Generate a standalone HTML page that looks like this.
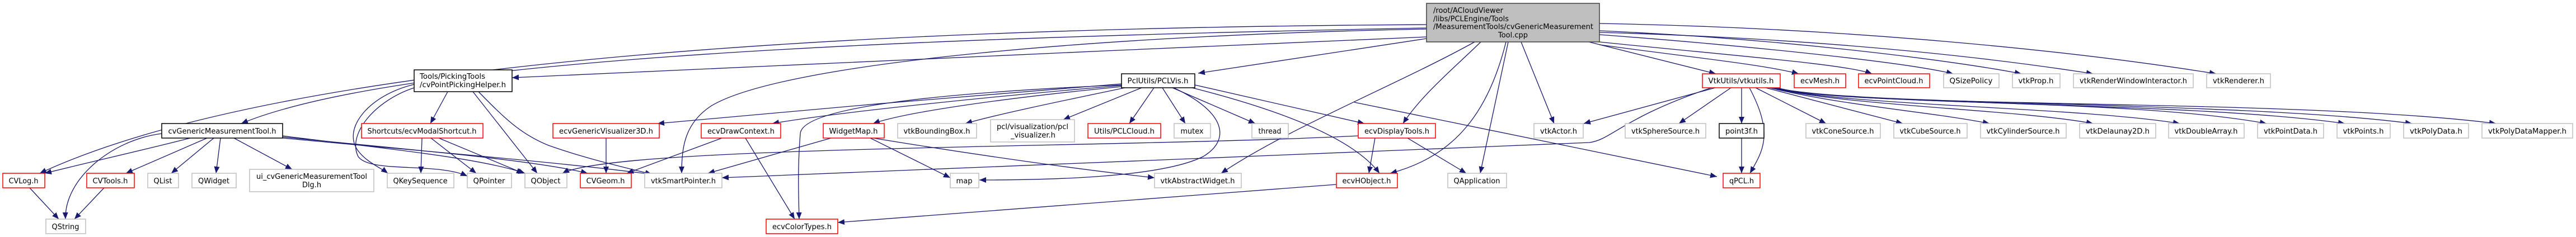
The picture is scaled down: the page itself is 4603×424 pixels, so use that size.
<!DOCTYPE html>
<html><head><meta charset="utf-8"><style>
html,body{margin:0;padding:0;background:#fff;}
svg{display:block;}
text{font-family:"DejaVu Sans","Liberation Sans",sans-serif;font-size:13px;fill:#000;}
.e{fill:none;stroke:#191970;stroke-width:1.3;}
.g{fill:#fff;stroke:#bfbfbf;stroke-width:1.5;}
.r{fill:#fff;stroke:#ff0000;stroke-width:1.5;}
.k{fill:#fff;stroke:#000;stroke-width:1.5;}
</style></head><body>
<svg width="4603" height="424" viewBox="0 0 4603 424" xmlns="http://www.w3.org/2000/svg">
<defs><marker id="a" markerUnits="userSpaceOnUse" markerWidth="12" markerHeight="10" refX="12" refY="5" orient="auto"><path d="M0,0 L12,5 L0,10 z" fill="#191970"/></marker></defs>
<g class="e" marker-end="url(#a)">
<!-- main edges -->
<path d="M2549,44 C1500,50 500,110 71,310"/>
<path d="M2549,50 C1500,70 700,110 431,221"/>
<path d="M2549,66 C2000,90 1300,120 915,139"/>
<path d="M2549,69 L2141,131"/>
<path d="M2549,52 C2000,62 1400,110 1270,190 C1225,220 1218,260 1218,310"/>
<path d="M2646,75 C2600,120 2540,170 2507,221"/>
<path d="M2691,75 C2660,200 2600,280 2484,310"/>
<path d="M2695,75 L2645,310"/>
<path d="M2718,75 L2777,221"/>
<path d="M2839,75 L3066,132"/>
<path d="M2635,75 C2500,150 2300,230 2182,310"/>
<path d="M2858,80 C3000,100 3150,115 3214,132"/>
<path d="M2858,75 C3100,100 3300,115 3345,132"/>
<path d="M2858,62 C3100,80 3400,110 3490,132"/>
<path d="M2858,55 C3200,70 3500,110 3612,132"/>
<path d="M2858,58 C3300,70 3600,110 3740,132"/>
<path d="M2858,42 C3300,50 3700,90 3960,132"/>
<!-- cvGMT -->
<path d="M340,247 C250,270 160,290 80,310"/>
<path d="M289,239 C200,250 115,320 117,392"/>
<path d="M370,247 L225,310"/>
<path d="M382,247 L306,310"/>
<path d="M394,247 L386,310"/>
<path d="M418,247 L522,303"/>
<path d="M505,243 C650,262 850,280 938,310"/>
<path d="M505,245 C700,265 950,285 1050,310"/>
<path d="M505,247 C750,270 1000,290 1165,312"/>
<path d="M53,336 L105,392"/>
<path d="M186,336 L133,392"/>
<!-- picking helper -->
<path d="M740,151 C660,170 610,230 640,270 C655,290 680,300 693,310"/>
<path d="M740,157 C670,180 620,240 640,280 C660,310 780,290 835,315"/>
<path d="M800,164 L769,221"/>
<path d="M845,164 L960,310"/>
<path d="M855,164 C900,210 930,240 980,260 C1050,285 1120,300 1165,312"/>
<!-- shortcut -->
<path d="M754,247 L752,310"/>
<path d="M770,247 L851,310"/>
<path d="M784,247 L935,310"/>
<!-- middle -->
<path d="M1083,247 L1083,310"/>
<path d="M1290,247 L1120,310"/>
<path d="M1332,247 L1420,392"/>
<path d="M1485,247 L1265,310"/>
<path d="M1555,247 L1698,318"/>
<path d="M1560,247 C1700,270 1900,300 2063,318"/>
<path d="M2004,150 C1800,165 1400,200 1175,221"/>
<path d="M2004,153 C1800,170 1500,200 1380,221"/>
<path d="M2004,155 C1800,175 1620,200 1560,221"/>
<path d="M2010,157 C1900,180 1780,205 1725,221"/>
<path d="M2040,157 L1900,214"/>
<path d="M2062,157 L2018,221"/>
<path d="M2077,157 L2118,221"/>
<path d="M2095,157 L2243,221"/>
<path d="M2097,157 C2190,200 2200,250 2150,280 C2070,320 1850,322 1750,322"/>
<path d="M2004,152 C1700,165 1430,190 1430,240 C1425,300 1427,350 1428,392"/>
<path d="M2135,152 L2438,221"/>
<path d="M2130,157 C2300,200 2420,250 2465,310"/>
<path d="M2420,183 C2700,240 2900,280 3068,316"/>
<path d="M2427,243 C2000,265 1100,260 1005,310"/>
<path d="M2457,247 L2446,310"/>
<path d="M2515,247 L2620,310"/>
<path d="M2388,330 L1497,398"/>
<!-- vtkutils -->
<path d="M3065,157 L2830,221"/>
<path d="M3058,157 C2900,210 2880,250 2840,255 L1290,318"/>
<path d="M3093,157 L3000,221"/>
<path d="M3112,157 L3112,221"/>
<path d="M3126,157 C3170,240 3150,270 3127,310"/>
<path d="M3112,247 L3112,310"/>
<path d="M3137,157 L3263,221"/>
<path d="M3155,157 L3400,221"/>
<path d="M3162,157 C3300,190 3450,200 3555,221"/>
<path d="M3165,157 C3300,190 3600,195 3740,221"/>
<path d="M3168,157 C3300,190 3700,190 3895,221"/>
<path d="M3170,157 C3300,190 3800,175 4050,221"/>
<path d="M3172,157 C3300,190 3900,180 4190,221"/>
<path d="M3174,157 C3300,190 4000,180 4310,221"/>
<path d="M3176,157 C3300,195 4100,175 4460,221"/>
</g>
<!-- nodes -->
<rect x="2549" y="6" width="309" height="69" fill="#bfbfbf" stroke="#404040" stroke-width="1.5"/>
<text x="2561" y="23" textLength="125" lengthAdjust="spacingAndGlyphs">/root/ACloudViewer</text>
<text x="2561" y="38" textLength="135" lengthAdjust="spacingAndGlyphs">/libs/PCLEngine/Tools</text>
<text x="2561" y="52" textLength="286" lengthAdjust="spacingAndGlyphs">/MeasurementTools/cvGenericMeasurement</text>
<text x="2677" y="67" textLength="53" lengthAdjust="spacingAndGlyphs">Tool.cpp</text>

<rect class="k" x="740" y="125" width="175" height="39"/>
<text x="750" y="141" textLength="117" lengthAdjust="spacingAndGlyphs">Tools/PickingTools</text>
<text x="750" y="156" textLength="154" lengthAdjust="spacingAndGlyphs">/cvPointPickingHelper.h</text>

<rect class="k" x="2004" y="132" width="131" height="25" stroke="#404040"/>
<rect class="r" x="3042" y="132" width="139" height="25"/>
<rect class="r" x="3206" y="132" width="92" height="25"/>
<rect class="r" x="3321" y="132" width="127" height="25"/>
<rect class="g" x="3473" y="132" width="99" height="25"/>
<rect class="g" x="3596" y="132" width="85" height="25"/>
<rect class="g" x="3705" y="132" width="214" height="25"/>
<rect class="g" x="3943" y="132" width="114" height="25"/>
<g>
<text x="2069" y="149" text-anchor="middle" textLength="109" lengthAdjust="spacingAndGlyphs">PclUtils/PCLVis.h</text>
<text x="3111" y="149" text-anchor="middle" textLength="117" lengthAdjust="spacingAndGlyphs">VtkUtils/vtkutils.h</text>
<text x="3252" y="149" text-anchor="middle" textLength="70" lengthAdjust="spacingAndGlyphs">ecvMesh.h</text>
<text x="3384" y="149" text-anchor="middle" textLength="105" lengthAdjust="spacingAndGlyphs">ecvPointCloud.h</text>
<text x="3522" y="149" text-anchor="middle" textLength="77" lengthAdjust="spacingAndGlyphs">QSizePolicy</text>
<text x="3638" y="149" text-anchor="middle" textLength="63" lengthAdjust="spacingAndGlyphs">vtkProp.h</text>
<text x="3812" y="149" text-anchor="middle" textLength="192" lengthAdjust="spacingAndGlyphs">vtkRenderWindowInteractor.h</text>
<text x="4000" y="149" text-anchor="middle" textLength="92" lengthAdjust="spacingAndGlyphs">vtkRenderer.h</text>
</g>

<rect class="k" x="289" y="221" width="216" height="26"/>
<rect class="r" x="646" y="221" width="217" height="26"/>
<rect class="r" x="988" y="221" width="190" height="26"/>
<rect class="r" x="1253" y="221" width="142" height="26"/>
<rect class="r" x="1471" y="221" width="109" height="26"/>
<rect class="g" x="1604" y="221" width="141" height="26"/>
<rect class="g" x="1770" y="214" width="150" height="40"/>
<rect class="r" x="1944" y="221" width="130" height="26"/>
<rect class="g" x="2098" y="221" width="65" height="26"/>
<rect class="g" x="2237" y="221" width="65" height="26"/>
<rect class="r" x="2427" y="221" width="138" height="26"/>
<rect class="g" x="2741" y="221" width="88" height="26"/>
<rect class="g" x="2904" y="221" width="144" height="26"/>
<rect class="k" x="3072" y="221" width="80" height="26"/>
<rect class="g" x="3227" y="221" width="133" height="26"/>
<rect class="g" x="3384" y="221" width="131" height="26"/>
<rect class="g" x="3539" y="221" width="153" height="26"/>
<rect class="g" x="3716" y="221" width="136" height="26"/>
<rect class="g" x="3875" y="221" width="135" height="26"/>
<rect class="g" x="4034" y="221" width="118" height="26"/>
<rect class="g" x="4176" y="221" width="95" height="26"/>
<rect class="g" x="4295" y="221" width="116" height="26"/>
<rect class="g" x="4435" y="221" width="162" height="26"/>
<g>
<text x="397" y="239" text-anchor="middle" textLength="193" lengthAdjust="spacingAndGlyphs">cvGenericMeasurementTool.h</text>
<text x="754" y="239" text-anchor="middle" textLength="195" lengthAdjust="spacingAndGlyphs">Shortcuts/ecvModalShortcut.h</text>
<text x="1083" y="239" text-anchor="middle" textLength="168" lengthAdjust="spacingAndGlyphs">ecvGenericVisualizer3D.h</text>
<text x="1324" y="239" text-anchor="middle" textLength="120" lengthAdjust="spacingAndGlyphs">ecvDrawContext.h</text>
<text x="1525" y="239" text-anchor="middle" textLength="87" lengthAdjust="spacingAndGlyphs">WidgetMap.h</text>
<text x="1674" y="239" text-anchor="middle" textLength="119" lengthAdjust="spacingAndGlyphs">vtkBoundingBox.h</text>
<text x="1845" y="231" text-anchor="middle" textLength="128" lengthAdjust="spacingAndGlyphs">pcl/visualization/pcl</text>
<text x="1846" y="246" text-anchor="middle" textLength="80" lengthAdjust="spacingAndGlyphs">_visualizer.h</text>
<text x="2009" y="239" text-anchor="middle" textLength="108" lengthAdjust="spacingAndGlyphs">Utils/PCLCloud.h</text>
<text x="2130" y="239" text-anchor="middle" textLength="41" lengthAdjust="spacingAndGlyphs">mutex</text>
<text x="2269" y="239" text-anchor="middle" textLength="41" lengthAdjust="spacingAndGlyphs">thread</text>
<text x="2496" y="239" text-anchor="middle" textLength="116" lengthAdjust="spacingAndGlyphs">ecvDisplayTools.h</text>
<text x="2785" y="239" text-anchor="middle" textLength="66" lengthAdjust="spacingAndGlyphs">vtkActor.h</text>
<text x="2976" y="239" text-anchor="middle" textLength="122" lengthAdjust="spacingAndGlyphs">vtkSphereSource.h</text>
<text x="3112" y="239" text-anchor="middle" textLength="58" lengthAdjust="spacingAndGlyphs">point3f.h</text>
<text x="3293" y="239" text-anchor="middle" textLength="111" lengthAdjust="spacingAndGlyphs">vtkConeSource.h</text>
<text x="3449" y="239" text-anchor="middle" textLength="109" lengthAdjust="spacingAndGlyphs">vtkCubeSource.h</text>
<text x="3615" y="239" text-anchor="middle" textLength="131" lengthAdjust="spacingAndGlyphs">vtkCylinderSource.h</text>
<text x="3784" y="239" text-anchor="middle" textLength="114" lengthAdjust="spacingAndGlyphs">vtkDelaunay2D.h</text>
<text x="3942" y="239" text-anchor="middle" textLength="113" lengthAdjust="spacingAndGlyphs">vtkDoubleArray.h</text>
<text x="4093" y="239" text-anchor="middle" textLength="96" lengthAdjust="spacingAndGlyphs">vtkPointData.h</text>
<text x="4223" y="239" text-anchor="middle" textLength="73" lengthAdjust="spacingAndGlyphs">vtkPoints.h</text>
<text x="4353" y="239" text-anchor="middle" textLength="94" lengthAdjust="spacingAndGlyphs">vtkPolyData.h</text>
<text x="4516" y="239" text-anchor="middle" textLength="140" lengthAdjust="spacingAndGlyphs">vtkPolyDataMapper.h</text>
</g>

<rect class="r" x="5" y="310" width="75" height="26"/>
<rect class="r" x="155" y="310" width="85" height="26"/>
<rect class="g" x="264" y="310" width="55" height="26"/>
<rect class="g" x="343" y="310" width="79" height="26"/>
<rect class="g" x="446" y="303" width="222" height="40"/>
<rect class="g" x="692" y="310" width="119" height="26"/>
<rect class="g" x="835" y="310" width="79" height="26"/>
<rect class="g" x="938" y="310" width="75" height="26"/>
<rect class="r" x="1037" y="310" width="91" height="26"/>
<rect class="g" x="1152" y="310" width="138" height="26"/>
<rect class="g" x="1698" y="310" width="51" height="26"/>
<rect class="g" x="2063" y="310" width="155" height="26"/>
<rect class="r" x="2388" y="310" width="109" height="26"/>
<rect class="g" x="2587" y="310" width="105" height="26"/>
<rect class="r" x="3079" y="310" width="66" height="26"/>
<g>
<text x="42" y="328" text-anchor="middle" textLength="53" lengthAdjust="spacingAndGlyphs">CVLog.h</text>
<text x="197" y="328" text-anchor="middle" textLength="63" lengthAdjust="spacingAndGlyphs">CVTools.h</text>
<text x="291" y="328" text-anchor="middle" textLength="33" lengthAdjust="spacingAndGlyphs">QList</text>
<text x="382" y="328" text-anchor="middle" textLength="56" lengthAdjust="spacingAndGlyphs">QWidget</text>
<text x="557" y="320" text-anchor="middle" textLength="198" lengthAdjust="spacingAndGlyphs">ui_cvGenericMeasurementTool</text>
<text x="557" y="335" text-anchor="middle" textLength="34" lengthAdjust="spacingAndGlyphs">Dlg.h</text>
<text x="751" y="328" text-anchor="middle" textLength="97" lengthAdjust="spacingAndGlyphs">QKeySequence</text>
<text x="874" y="328" text-anchor="middle" textLength="57" lengthAdjust="spacingAndGlyphs">QPointer</text>
<text x="975" y="328" text-anchor="middle" textLength="53" lengthAdjust="spacingAndGlyphs">QObject</text>
<text x="1082" y="328" text-anchor="middle" textLength="69" lengthAdjust="spacingAndGlyphs">CVGeom.h</text>
<text x="1221" y="328" text-anchor="middle" textLength="116" lengthAdjust="spacingAndGlyphs">vtkSmartPointer.h</text>
<text x="1723" y="328" text-anchor="middle" textLength="29" lengthAdjust="spacingAndGlyphs">map</text>
<text x="2140" y="328" text-anchor="middle" textLength="133" lengthAdjust="spacingAndGlyphs">vtkAbstractWidget.h</text>
<text x="2442" y="328" text-anchor="middle" textLength="87" lengthAdjust="spacingAndGlyphs">ecvHObject.h</text>
<text x="2639" y="328" text-anchor="middle" textLength="83" lengthAdjust="spacingAndGlyphs">QApplication</text>
<text x="3112" y="328" text-anchor="middle" textLength="44" lengthAdjust="spacingAndGlyphs">qPCL.h</text>
</g>

<rect class="g" x="82" y="392" width="71" height="26"/>
<rect class="r" x="1369" y="392" width="128" height="26"/>
<text x="117" y="410" text-anchor="middle" textLength="49" lengthAdjust="spacingAndGlyphs">QString</text>
<text x="1433" y="410" text-anchor="middle" textLength="106" lengthAdjust="spacingAndGlyphs">ecvColorTypes.h</text>
</svg>
</body></html>
